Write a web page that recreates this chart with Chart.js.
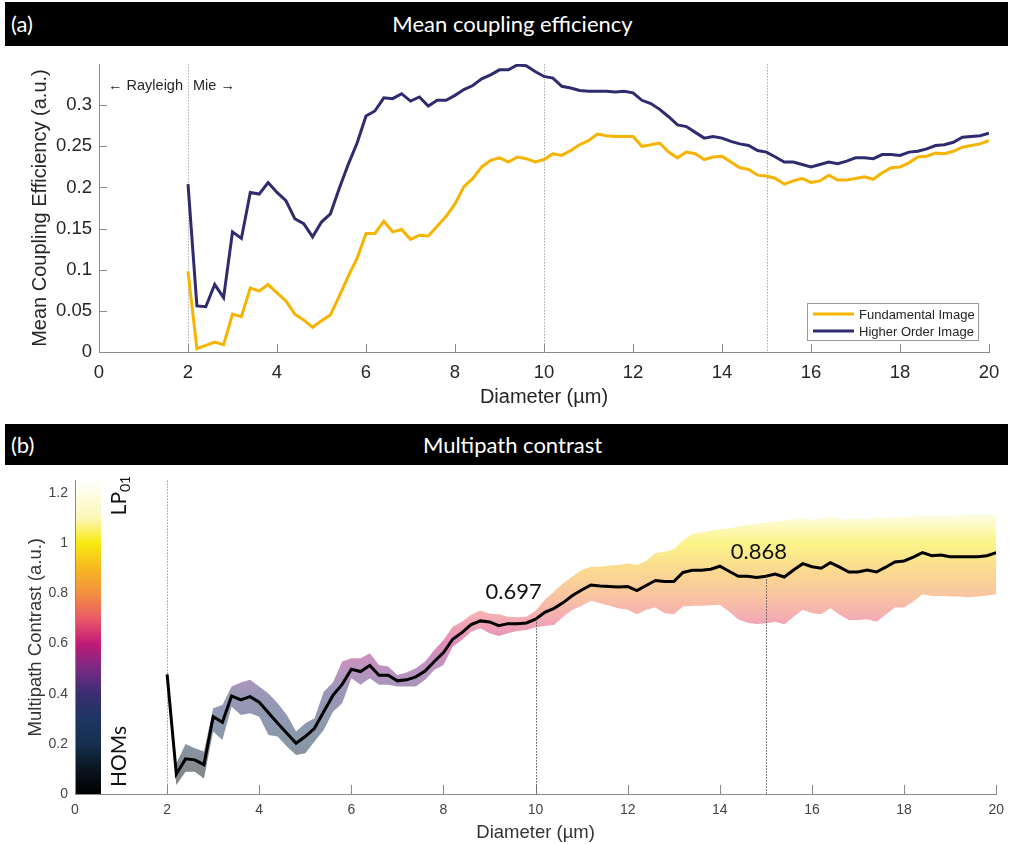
<!DOCTYPE html>
<html>
<head>
<meta charset="utf-8">
<script src="https://cdn.jsdelivr.net/npm/chart.js@4.4.1/dist/chart.umd.min.js"></script>
<style>
  body{margin:0;width:1012px;height:844px;background:#fff;position:relative;overflow:hidden;}
  .bar{position:absolute;left:5px;width:1003px;background:#000;color:#fff;font-family:Lato,"Open Sans",sans-serif;font-size:22px;}
  .bar .tag{position:absolute;left:6px;top:0;}
  .bar .ttl{position:absolute;left:12px;right:0;top:0;text-align:center;}
  #barA{top:2px;height:44px;line-height:44px;}
  #barB{top:424px;height:41px;line-height:41px;}
  canvas{position:absolute;left:0;}
  #chartA{top:46px;}
  #chartB{top:465px;}
</style>
</head>
<body>
<div class="bar" id="barA"><span class="tag">(a)</span><span class="ttl">Mean coupling efficiency</span></div>
<canvas id="chartA" width="1012" height="374"></canvas>
<div class="bar" id="barB"><span class="tag">(b)</span><span class="ttl">Multipath contrast</span></div>
<canvas id="chartB" width="1012" height="379"></canvas>
<script>
// ---- data ----
const diameters = [
  2.0,2.2,2.4,2.6,2.8,3.0,3.2,3.4,3.6,3.8,
  4.0,4.2,4.4,4.6,4.8,5.0,5.2,5.4,5.6,5.8,
  6.0,6.2,6.4,6.6,6.8,7.0,7.2,7.4,7.6,7.8,
  8.0,8.2,8.4,8.6,8.8,9.0,9.2,9.4,9.6,9.8,
  10.0,10.2,10.4,10.6,10.8,11.0,11.2,11.4,11.6,11.8,
  12.0,12.2,12.4,12.6,12.8,13.0,13.2,13.4,13.6,13.8,
  14.0,14.2,14.4,14.6,14.8,15.0,15.2,15.4,15.6,15.8,
  16.0,16.2,16.4,16.6,16.8,17.0,17.2,17.4,17.6,17.8,
  18.0,18.2,18.4,18.6,18.8,19.0,19.2,19.4,19.6,19.8,
  20.0
];
const fundamental = [
  0.098,0.004,0.008,0.012,0.009,0.046,0.043,0.078,0.074,0.082,
  0.072,0.062,0.046,0.039,0.030,0.038,0.045,0.068,0.092,0.114,
  0.144,0.144,0.159,0.146,0.149,0.137,0.142,0.141,0.153,0.165,
  0.180,0.201,0.211,0.225,0.233,0.236,0.231,0.237,0.235,0.231,
  0.234,0.241,0.239,0.245,0.252,0.257,0.265,0.263,0.262,0.262,
  0.262,0.250,0.252,0.254,0.243,0.236,0.243,0.241,0.234,0.237,
  0.238,0.231,0.224,0.222,0.215,0.214,0.211,0.204,0.208,0.211,
  0.206,0.208,0.215,0.209,0.209,0.211,0.213,0.210,0.218,0.224,
  0.225,0.230,0.237,0.238,0.242,0.241,0.244,0.249,0.251,0.253,
  0.257
];
const higherOrder = [
  0.204,0.056,0.055,0.082,0.066,0.146,0.138,0.194,0.192,0.206,
  0.194,0.184,0.162,0.156,0.140,0.158,0.168,0.199,0.228,0.254,
  0.287,0.293,0.309,0.308,0.314,0.305,0.310,0.299,0.306,0.306,
  0.312,0.319,0.324,0.332,0.337,0.343,0.343,0.349,0.348,0.341,
  0.335,0.333,0.323,0.321,0.318,0.317,0.317,0.317,0.316,0.317,
  0.315,0.306,0.302,0.295,0.286,0.276,0.274,0.267,0.260,0.262,
  0.260,0.256,0.253,0.251,0.245,0.243,0.237,0.231,0.231,0.228,
  0.225,0.228,0.231,0.229,0.232,0.236,0.236,0.235,0.240,0.240,
  0.239,0.243,0.244,0.247,0.251,0.252,0.255,0.261,0.262,0.263,
  0.266
];
const contrastMean = [
  0.477,0.079,0.140,0.136,0.117,0.308,0.286,0.391,0.375,0.388,
  0.366,0.324,0.282,0.242,0.202,0.229,0.262,0.328,0.393,0.437,
  0.497,0.488,0.512,0.473,0.473,0.451,0.455,0.467,0.490,0.528,
  0.564,0.617,0.643,0.675,0.690,0.686,0.671,0.679,0.679,0.682,
  0.697,0.724,0.740,0.763,0.791,0.813,0.833,0.829,0.827,0.825,
  0.827,0.811,0.831,0.851,0.847,0.847,0.883,0.892,0.892,0.896,
  0.908,0.888,0.868,0.868,0.863,0.868,0.877,0.865,0.893,0.918,
  0.906,0.900,0.922,0.904,0.885,0.885,0.893,0.885,0.904,0.925,
  0.929,0.944,0.962,0.950,0.953,0.946,0.946,0.946,0.946,0.950,
  0.962
];
const contrastUpper = [
  0.488,0.122,0.199,0.182,0.169,0.342,0.355,0.428,0.444,0.455,
  0.428,0.401,0.362,0.315,0.249,0.282,0.302,0.408,0.444,0.528,
  0.541,0.541,0.561,0.514,0.508,0.474,0.484,0.501,0.528,0.574,
  0.614,0.667,0.687,0.714,0.731,0.718,0.716,0.707,0.705,0.707,
  0.730,0.774,0.807,0.840,0.867,0.893,0.906,0.906,0.911,0.913,
  0.920,0.913,0.929,0.960,0.966,0.976,1.010,1.037,1.043,1.049,
  1.055,1.059,1.066,1.073,1.077,1.082,1.086,1.090,1.095,1.099,
  1.093,1.099,1.103,1.097,1.095,1.099,1.095,1.102,1.099,1.103,
  1.103,1.106,1.108,1.108,1.108,1.110,1.111,1.112,1.112,1.114,
  1.114
];
const contrastLower = [
  0.467,0.036,0.089,0.089,0.062,0.249,0.215,0.348,0.315,0.322,
  0.308,0.235,0.229,0.189,0.155,0.162,0.209,0.255,0.328,0.362,
  0.461,0.435,0.461,0.435,0.435,0.428,0.428,0.428,0.455,0.494,
  0.514,0.587,0.614,0.647,0.661,0.641,0.630,0.641,0.650,0.654,
  0.665,0.670,0.674,0.707,0.734,0.750,0.770,0.760,0.750,0.740,
  0.734,0.716,0.734,0.743,0.720,0.716,0.747,0.750,0.750,0.752,
  0.754,0.727,0.696,0.683,0.678,0.680,0.687,0.677,0.707,0.734,
  0.720,0.716,0.740,0.714,0.694,0.694,0.697,0.687,0.714,0.743,
  0.743,0.767,0.796,0.789,0.789,0.787,0.787,0.784,0.787,0.791,
  0.796
];

const xTicks = [0,2,4,6,8,10,12,14,16,18,20];
const yTicksA = [0,0.05,0.1,0.15,0.2,0.25,0.3];
const yTickLabelsA = ['0','0.05','0.1','0.15','0.2','0.25','0.3'];
const yTicksB = [0,0.2,0.4,0.6,0.8,1,1.2];
const yTickLabelsB = ['0','0.2','0.4','0.6','0.8','1','1.2'];
const regimeLines = [2, 10, 15];
const markerX = [10, 15];
const markerValue = [0.697, 0.868];
const markerText = ['0.697', '0.868'];

// colour map of the contrast bar (value -> colour)
const cmapValues = [0, 0.1, 0.2, 0.3, 0.4, 0.5, 0.6, 0.7, 0.8, 0.9, 1.0, 1.1, 1.25];
const cmapColors = ['#000000','#0b1521','#14304e','#1f3563','#3a2e70','#7a2a82','#c21a78','#ea5a66','#f39040','#f6b820','#f8ea10','#fcf7b8','#ffffff'];

const axisFont = '"Liberation Sans", Arial, sans-serif';
const noteFont = 'Lato, "Open Sans", sans-serif';
const axisGrey = '#8a8a8a';
Chart.defaults.font.family = axisFont;

function rgba(hex, a){
  const n = parseInt(hex.slice(1), 16);
  return `rgba(${(n>>16)&255},${(n>>8)&255},${n&255},${a})`;
}
function cmapGradient(chart, alpha){
  const {ctx, scales} = chart;
  const y0 = scales.y.getPixelForValue(0);
  const y1 = scales.y.getPixelForValue(1.25);
  const g = ctx.createLinearGradient(0, y0, 0, y1);
  cmapValues.forEach((v, i) => g.addColorStop(v / 1.25, rgba(cmapColors[i], alpha)));
  return g;
}
function pts(ys){ return diameters.map((d, i) => ({x: d, y: ys[i]})); }

function dotted(ctx, x, yTop, yBot, color){
  ctx.save();
  ctx.strokeStyle = color;
  ctx.lineWidth = 1;
  ctx.setLineDash([1.5, 1.5]);
  ctx.beginPath();
  ctx.moveTo(Math.round(x) + 0.5, yTop);
  ctx.lineTo(Math.round(x) + 0.5, yBot);
  ctx.stroke();
  ctx.restore();
}

// inward tick marks, MATLAB style
function innerTicks(chart, len, withY, yTicks){
  const {ctx, chartArea, scales} = chart;
  ctx.save();
  ctx.strokeStyle = axisGrey;
  ctx.lineWidth = 1;
  ctx.beginPath();
  xTicks.forEach(v => {
    const x = Math.round(scales.x.getPixelForValue(v)) + 0.5;
    ctx.moveTo(x, chartArea.bottom);
    ctx.lineTo(x, chartArea.bottom - len);
  });
  if(withY){
    yTicks.forEach(v => {
      const y = Math.round(scales.y.getPixelForValue(v)) + 0.5;
      ctx.moveTo(chartArea.left, y);
      ctx.lineTo(chartArea.left + len, y);
    });
  }
  ctx.stroke();
  ctx.restore();
}

// ---- panel (a) ----
const panelA = {
  id: 'panelA',
  beforeDatasetsDraw(chart){
    const {ctx, chartArea, scales} = chart;
    regimeLines.forEach(d => dotted(ctx, scales.x.getPixelForValue(d), chartArea.top, chartArea.bottom, '#aaaaaa'));
    innerTicks(chart, 8, true, yTicksA);
    // regime labels
    const x2 = scales.x.getPixelForValue(2);
    ctx.save();
    ctx.fillStyle = '#262626';
    ctx.font = '14.5px ' + axisFont;
    ctx.textBaseline = 'middle';
    ctx.textAlign = 'right';
    ctx.fillText('\u2190 Rayleigh', x2 - 5, chartArea.top + 22);
    ctx.textAlign = 'left';
    ctx.fillText('Mie \u2192', x2 + 5, chartArea.top + 22);
    ctx.restore();
  },
  afterDraw(chart){
    const {ctx, chartArea} = chart;
    const w = 171, h = 37;
    const bx = chartArea.right - 11 - w, by = chartArea.bottom - 12 - h;
    ctx.save();
    ctx.fillStyle = '#fff';
    ctx.fillRect(bx, by, w, h);
    ctx.strokeStyle = '#9a9a9a';
    ctx.lineWidth = 1;
    ctx.strokeRect(bx + 0.5, by + 0.5, w, h);
    ctx.font = '13px ' + axisFont;
    ctx.textBaseline = 'middle';
    ctx.fillStyle = '#262626';
    chart.data.datasets.forEach((ds, i) => {
      const y = by + 11 + i * 17;
      ctx.strokeStyle = ds.borderColor;
      ctx.lineWidth = 3;
      ctx.beginPath();
      ctx.moveTo(bx + 6, y);
      ctx.lineTo(bx + 47, y);
      ctx.stroke();
      ctx.fillText(ds.label, bx + 52, y + 1);
    });
    ctx.restore();
  }
};

new Chart(document.getElementById('chartA'), {
  type: 'line',
  data: {
    datasets: [
      { label: 'Fundamental Image', data: pts(fundamental), borderColor: '#f6b400', borderWidth: 3, pointRadius: 0, fill: false, tension: 0 },
      { label: 'Higher Order Image', data: pts(higherOrder), borderColor: '#2e2b6e', borderWidth: 3, pointRadius: 0, fill: false, tension: 0 }
    ]
  },
  options: {
    responsive: false,
    animation: false,
    layout: { padding: { top: 14, right: 23, left: 0, bottom: 0 } },
    plugins: { legend: { display: false }, tooltip: { enabled: false } },
    scales: {
      x: {
        type: 'linear', min: 0, max: 20,
        afterBuildTicks: s => { s.ticks = xTicks.map(v => ({ value: v })); },
        afterFit: s => { s.height = 68; },
        grid: { display: false, drawTicks: false },
        border: { display: true, color: axisGrey, width: 1 },
        ticks: { color: '#262626', font: { size: 18.5 }, padding: 10, maxRotation: 0, autoSkip: false },
        title: { display: true, text: 'Diameter (\u00b5m)', color: '#262626', font: { size: 20 }, padding: { top: 0, bottom: 11 } }
      },
      y: {
        min: 0, max: 0.35,
        afterBuildTicks: s => { s.ticks = yTicksA.map(v => ({ value: v })); },
        afterFit: s => { s.width = 99; },
        grid: { display: false, drawTicks: false },
        border: { display: true, color: axisGrey, width: 1 },
        ticks: { color: '#262626', font: { size: 18.5 }, padding: 7, callback: (v, i) => yTickLabelsA[i] },
        title: { display: true, text: 'Mean Coupling Efficiency (a.u.)', color: '#262626', font: { size: 20 }, padding: { top: 28, bottom: 0 } }
      }
    }
  },
  plugins: [panelA]
});

// ---- panel (b) ----
const panelB = {
  id: 'panelB',
  beforeDatasetsDraw(chart){
    const {ctx, chartArea, scales} = chart;
    dotted(ctx, scales.x.getPixelForValue(2), chartArea.top, chartArea.bottom, '#9a9a9a');
    innerTicks(chart, 9, false, yTicksB);
  },
  afterDatasetsDraw(chart){
    const {ctx, chartArea, scales} = chart;
    markerX.forEach((d, i) => {
      dotted(ctx, scales.x.getPixelForValue(d), scales.y.getPixelForValue(markerValue[i]), chartArea.bottom, '#555555');
    });
    const offs = [[-22, -27], [-7, -24]];
    ctx.save();
    ctx.fillStyle = '#111';
    ctx.font = '22px ' + noteFont;
    ctx.textAlign = 'center';
    ctx.textBaseline = 'middle';
    markerX.forEach((d, i) => {
      ctx.fillText(markerText[i], scales.x.getPixelForValue(d) + offs[i][0], scales.y.getPixelForValue(markerValue[i]) + offs[i][1]);
    });
    ctx.restore();
  },
  afterDraw(chart){
    const {ctx, chartArea} = chart;
    // colour bar
    ctx.save();
    ctx.fillStyle = cmapGradient(chart, 1);
    ctx.fillRect(chartArea.left + 1, chartArea.top, 25, chartArea.bottom - chartArea.top);
    ctx.fillStyle = '#111';
    ctx.textAlign = 'left';
    ctx.textBaseline = 'alphabetic';
    // LP01 at the top end
    ctx.save();
    ctx.translate(chartArea.left + 51, chartArea.top + 35);
    ctx.rotate(-Math.PI / 2);
    ctx.font = '21px ' + noteFont;
    ctx.fillText('LP', 0, 0);
    const w = ctx.measureText('LP').width;
    ctx.font = '14px ' + noteFont;
    ctx.fillText('01', w, 4);
    ctx.restore();
    // HOMs at the bottom end
    ctx.save();
    ctx.translate(chartArea.left + 51, chartArea.bottom - 7);
    ctx.rotate(-Math.PI / 2);
    ctx.font = '21px ' + noteFont;
    ctx.fillText('HOMs', 0, 0);
    ctx.restore();
    ctx.restore();
  }
};

new Chart(document.getElementById('chartB'), {
  type: 'line',
  data: {
    datasets: [
      { label: 'Mean', data: pts(contrastMean), borderColor: '#000', borderWidth: 3, pointRadius: 0, fill: false, tension: 0 },
      { label: 'Upper', data: pts(contrastUpper), borderWidth: 0, borderColor: 'rgba(0,0,0,0)', pointRadius: 0, tension: 0,
        fill: '+1', backgroundColor: c => c.chart.chartArea ? cmapGradient(c.chart, 0.5) : 'rgba(0,0,0,0)' },
      { label: 'Lower', data: pts(contrastLower), borderWidth: 0, borderColor: 'rgba(0,0,0,0)', pointRadius: 0, tension: 0, fill: false }
    ]
  },
  options: {
    responsive: false,
    animation: false,
    layout: { padding: { top: 15, right: 14, left: 0, bottom: 0 } },
    plugins: { legend: { display: false }, tooltip: { enabled: false } },
    scales: {
      x: {
        type: 'linear', min: 0, max: 20,
        afterBuildTicks: s => { s.ticks = xTicks.map(v => ({ value: v })); },
        afterFit: s => { s.height = 50; },
        grid: { display: false, drawTicks: false },
        border: { display: true, color: axisGrey, width: 1 },
        ticks: { color: '#444', font: { size: 14 }, padding: 8, maxRotation: 0, autoSkip: false },
        title: { display: true, text: 'Diameter (\u00b5m)', color: '#333', font: { size: 18.5 }, padding: { top: 0, bottom: 0 } }
      },
      y: {
        min: 0, max: 1.25,
        afterBuildTicks: s => { s.ticks = yTicksB.map(v => ({ value: v })); },
        afterFit: s => { s.width = 75; },
        grid: { display: false, drawTicks: false },
        border: { display: true, color: axisGrey, width: 1 },
        ticks: { color: '#444', font: { size: 14 }, padding: 7, callback: (v, i) => yTickLabelsB[i] },
        title: { display: true, text: 'Multipath Contrast (a.u.)', color: '#333', font: { size: 18.5 }, padding: { top: 25, bottom: 0 } }
      }
    }
  },
  plugins: [panelB]
});
</script>
</body>
</html>
